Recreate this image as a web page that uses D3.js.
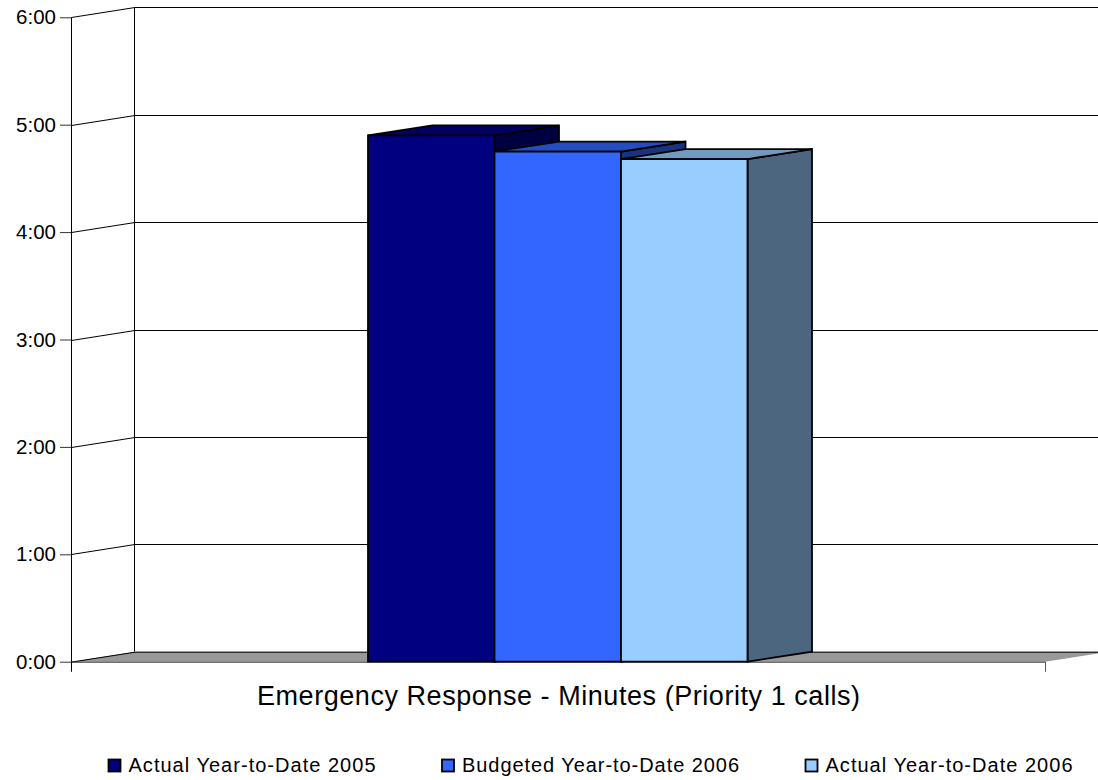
<!DOCTYPE html>
<html><head><meta charset="utf-8">
<script src="https://cdn.jsdelivr.net/npm/d3@7"></script>
<style>
html,body{margin:0;padding:0;background:#fff;overflow:hidden}
svg{display:block}
text{font-family:"Liberation Sans",Arial,sans-serif;fill:#000}
</style></head><body>
<svg id="c" width="1098" height="780"></svg>
<script>
const seriesNames = ["Actual Year-to-Date 2005","Budgeted Year-to-Date 2006","Actual Year-to-Date 2006"];
const seriesValues = [4.9, 4.75, 4.68];
const seriesColors = ["#000080","#3366FF","#99CCFF"];
const topColors = ["#000060","#264DBF","#7399BF"];
const sideColors = ["#000040","#1A3380","#4D6680"];
const tickValues = [0,1,2,3,4,5,6];
const tickLabels = ["0:00","1:00","2:00","3:00","4:00","5:00","6:00"];
const categoryTitle = "Emergency Response - Minutes (Priority 1 calls)";
const legendX = [108, 441.5, 805];

const svg = d3.select("#c");
const y = d3.scaleLinear().domain([0,6]).range([661.7,17.3]);
const xCat = d3.scaleLinear().domain([0,1]).range([71,1045]);
const x = d3.scaleBand().domain(seriesNames).range([368,747.5]);
const dx = 64.5, dy = -10;
const line = d3.line();

// back wall + side wall gridlines
const g = svg.append("g").attr("fill","none").attr("stroke","#000").attr("stroke-width",1);
tickValues.slice(1).forEach(t=>{
  const py = Math.round(y(t))+0.5;
  g.append("path").attr("d",line([[xCat(0)+.5,py],[xCat(0)+64,py+dy],[1098,py+dy]]));
});
g.append("path").attr("d",line([[xCat(0)+63.5,y(6)+dy],[xCat(0)+63.5,y(0)+dy]]));

// floor
const fy = y(0);
svg.append("path").attr("fill","#999999")
  .attr("d",line([[xCat(0),fy],[xCat(0)+64,fy+dy],[xCat(1)+64,fy+dy],[xCat(1),fy]])+"Z");
svg.append("path").attr("fill","none").attr("stroke","#000")
  .attr("d",line([[xCat(0),fy+.5],[xCat(0)+64,fy+dy+.5],[1098,fy+dy+.5]]));
svg.append("path").attr("fill","none").attr("stroke","#333")
  .attr("d",line([[xCat(0),fy+.5],[xCat(1),fy+.5]]));

// axes
const axis = d3.axisLeft(y).tickValues(tickValues).tickFormat((d,i)=>tickLabels[i]).tickSize(11).tickPadding(4);
const ax = svg.append("g").attr("transform",`translate(71,0)`).call(axis);
ax.select(".domain").remove();
ax.selectAll(".tick line").attr("stroke","#333");
ax.selectAll(".tick text").attr("font-size",20.5).attr("font-family",'"Liberation Sans",Arial,sans-serif').attr("fill","#000");
svg.append("line").attr("x1",71.5).attr("x2",71.5).attr("y1",y(6)).attr("y2",y(0)+10).attr("stroke","#000");
svg.append("line").attr("x1",xCat(1)+.5).attr("x2",xCat(1)+.5).attr("y1",y(0)).attr("y2",y(0)+10).attr("stroke","#555");

// bars
const bars = svg.append("g").attr("stroke","#000").attr("stroke-width",1.8).attr("stroke-linejoin","miter");
seriesNames.forEach((s,i)=>{
  const x0=x(s), x1=x0+x.bandwidth(), yt=y(seriesValues[i]), yb=y(0);
  bars.append("path").attr("fill",sideColors[i])
    .attr("d",line([[x1,yt],[x1+dx,yt+dy],[x1+dx,yb+dy],[x1,yb]])+"Z");
  bars.append("path").attr("fill",topColors[i])
    .attr("d",line([[x0,yt],[x0+dx,yt+dy],[x1+dx,yt+dy],[x1,yt]])+"Z");
  bars.append("path").attr("fill",seriesColors[i])
    .attr("d",line([[x0,yt],[x1,yt],[x1,yb],[x0,yb]])+"Z");
});

// title
svg.append("text").attr("x",558.5).attr("y",705).attr("text-anchor","middle")
  .attr("font-size",27).attr("textLength",603).attr("lengthAdjust","spacing").text(categoryTitle);

// legend
const lw = [247, 277, 247];
seriesNames.forEach((s,i)=>{
  svg.append("rect").attr("x",legendX[i]+.5).attr("y",759.5).attr("width",12).attr("height",12)
    .attr("fill",seriesColors[i]).attr("stroke","#000").attr("stroke-width",1.8);
  svg.append("text").attr("x",legendX[i]+20.5).attr("y",771.5).attr("font-size",20)
    .attr("textLength",lw[i]).attr("lengthAdjust","spacing").text(s);
});
</script>
</body></html>
